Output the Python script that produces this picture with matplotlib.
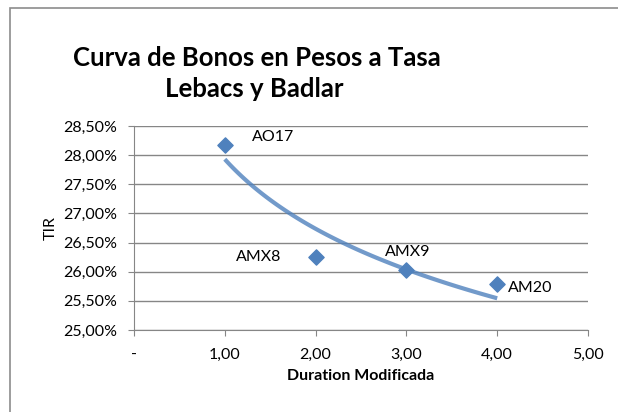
import numpy as np
import matplotlib.pyplot as plt
from matplotlib.patches import Rectangle
from matplotlib.ticker import FuncFormatter

# datos
bonos = ["AO17", "AMX8", "AMX9", "AM20"]
duration = [1.0, 2.0, 3.0, 4.0]
tir = [28.17, 26.26, 26.03, 25.79]

x_ticks = [0, 1, 2, 3, 4, 5]
y_ticks = [25.0, 25.5, 26.0, 26.5, 27.0, 27.5, 28.0, 28.5]

plt.rcParams['font.family'] = ['Lato', 'DejaVu Sans']

fig = plt.figure(figsize=(6.18, 4.12), dpi=100)
# marco del grafico (sigue fuera de la imagen a la derecha y abajo)
fig.patches.append(Rectangle((10 / 618, -0.05), 1.0, 1 - 8 / 412 + 0.05,
                             transform=fig.transFigure, fill=False,
                             edgecolor="#8c8c8c", linewidth=1.2))

ax = fig.add_axes([134 / 618, 1 - 330 / 412, 454 / 618, 204 / 412])

# linea de tendencia logaritmica (como Excel)
b, a = np.polyfit(np.log(duration), tir, 1)
xs = np.linspace(min(duration), max(duration), 100)
ax.plot(xs, a + b * np.log(xs), color="#4f81bd", alpha=0.8, linewidth=3,
        solid_capstyle="butt", zorder=2)

ax.scatter(duration, tir, marker="D", s=60, color="#4f81bd", zorder=3)

offsets = {"AO17": (35, 6), "AMX8": (-41, 0), "AMX9": (1, 13), "AM20": (24, -3)}
for name, x, y in zip(bonos, duration, tir):
    ax.annotate(name, (x, y), xytext=offsets[name], textcoords="offset points",
                ha="center", va="center", fontsize=11.5, color="black")

ax.set_xlim(0, 5)
ax.set_ylim(25, 28.5)
ax.set_xticks(x_ticks)
ax.set_yticks(y_ticks)
ax.xaxis.set_major_formatter(FuncFormatter(
    lambda v, p: "-" if v == 0 else f"{v:.2f}".replace(".", ",")))
ax.yaxis.set_major_formatter(FuncFormatter(
    lambda v, p: f"{v:.2f}%".replace(".", ",")))

ax.grid(axis="y", color="#868686", linewidth=1)
ax.set_axisbelow(True)
for s in ["top", "right"]:
    ax.spines[s].set_visible(False)
for s in ["left", "bottom"]:
    ax.spines[s].set_color("#868686")
ax.tick_params(colors="#868686", labelcolor="black", labelsize=11.5, length=4)
ax.tick_params(axis="y", pad=8)
ax.tick_params(axis="x", pad=9)

ax.set_xlabel("Duration Modificada", fontsize=11.5, fontweight="bold", labelpad=5)
ax.set_ylabel("TIR", fontsize=11.5, labelpad=4)

fig.text(257 / 618, 1 - 58 / 412, "Curva de Bonos en Pesos a Tasa", ha="center",
         va="center", fontsize=18.5, fontweight="bold")
fig.text(254 / 618, 1 - 89 / 412, "Lebacs y Badlar", ha="center",
         va="center", fontsize=18.5, fontweight="bold")

fig.savefig("out.png", dpi=100)
